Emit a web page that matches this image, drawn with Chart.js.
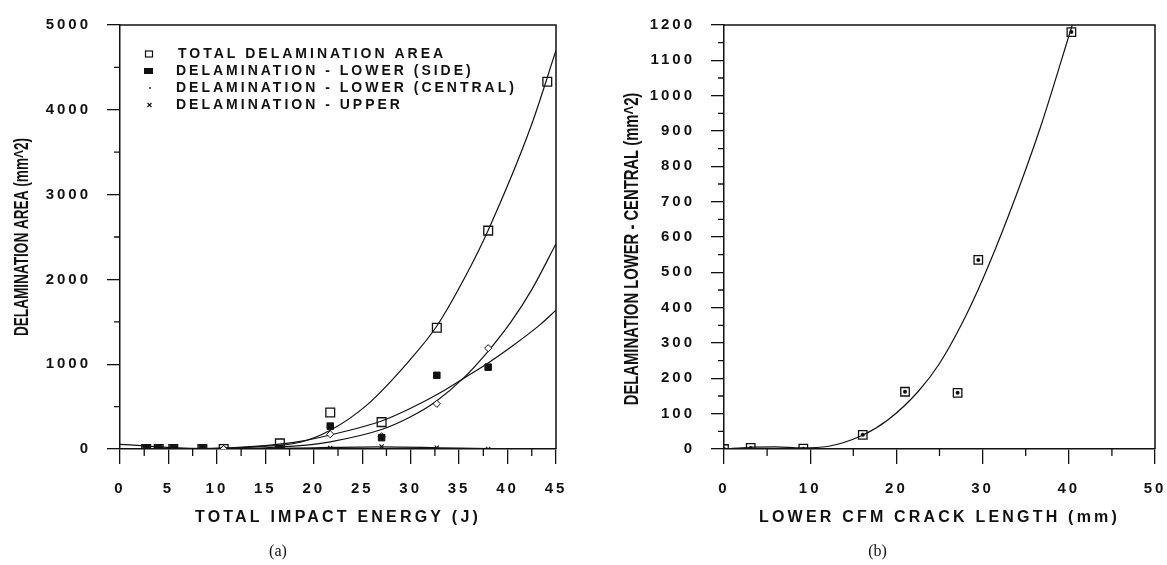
<!DOCTYPE html>
<html><head><meta charset="utf-8">
<script src="https://cdn.jsdelivr.net/npm/chart.js@4.4.1/dist/chart.umd.min.js"></script>
<style>
html,body{margin:0;padding:0;background:#fff;overflow:hidden;width:1167px;height:565px;}
#c1{position:absolute;left:0;top:0;}
#c2{position:absolute;left:600px;top:0;}
</style></head><body>
<canvas id="c1" width="620" height="565"></canvas>
<canvas id="c2" width="624" height="565"></canvas>
<script>
// ---------- data: chart (a) ----------
const impactEnergy   = [2.7, 4.0, 5.5, 8.5, 10.7, 16.5, 21.7, 27.0, 32.7, 38.0, 44.1];
const totalArea      = [0, 0, 0, 0, 0, 66, 430, 317, 1430, 2575, 4330];
const lowerSideArea  = [4, 4, 4, 4, null, 8, 270, 134, 869, 965, null];
const lowerCentral   = [null, null, null, null, 0, 4, 174, 150, 533, 1189, null];
const upperArea      = [0, 0, 0, 0, 0, 5, 12, 30, 15, 0, null];

const totalFitX   = [0, 5, 10, 14, 18.6, 21.7, 25.5, 30, 32.7, 35.9, 38, 42.4, 45];
const totalFitY   = [0, 2, 5, 25, 80, 220, 520, 1060, 1450, 2090, 2580, 3800, 4700];
const sideFitX    = [0, 10, 15, 18.6, 21.7, 27, 30, 33, 35.5, 38, 40.5, 43.4, 45];
const sideFitY    = [0, 10, 40, 90, 165, 330, 480, 660, 835, 1015, 1215, 1470, 1636];
const centralFitX = [0, 10, 15, 18.6, 21.7, 27, 30, 32.6, 35.5, 37.9, 40.3, 42.5, 45];
const centralFitY = [0, 0, 15, 40, 85, 230, 380, 560, 841, 1140, 1490, 1880, 2420];
const upperFitX   = [0, 3, 6, 10, 15, 20, 27, 33, 38, 45];
const upperFitY   = [55, 33, 15, 3, 5, 15, 25, 15, 5, 0];

const legendLabels = ['TOTAL DELAMINATION AREA', 'DELAMINATION - LOWER (SIDE)',
                      'DELAMINATION - LOWER (CENTRAL)', 'DELAMINATION - UPPER'];
const xTicksA = [0, 5, 10, 15, 20, 25, 30, 35, 40, 45];
const xMinorA = [2.5, 7.5, 12.5, 17.5, 22.5, 27.5, 32.5, 37.5, 42.5];
const yTicksA = [0, 1000, 2000, 3000, 4000, 5000];
const yMinorA = [500, 1500, 2500, 3500, 4500];

// ---------- data: chart (b) ----------
const crackLength    = [0, 3.1, 9.2, 16.1, 21.0, 27.1, 29.5, 40.3];
const centralLowArea = [0, 3, 1, 40, 162, 159, 535, 1180];
const crackFitX = [0, 3, 6, 9, 12, 16, 19, 22.5, 25, 27.5, 30, 33, 36.7, 40.4];
const crackFitY = [0, 5, 6, 3, 7, 38, 82, 162, 242, 350, 480, 660, 910, 1200];
const xTicksB = [0, 10, 20, 30, 40, 50];
const xMinorB = [5, 15, 25, 35, 45];
const yTicksB = [0, 100, 200, 300, 400, 500, 600, 700, 800, 900, 1000, 1100, 1200];
const yMinorB = [50, 150, 250, 350, 450, 550, 650, 750, 850, 950, 1050, 1150];

// ---------- helpers ----------
const INK = '#111';
const SANS = "'Liberation Sans', Arial, Helvetica, sans-serif";
function pts(xs, ys) { const o = []; xs.forEach((x, i) => { if (ys[i] !== null && ys[i] !== undefined) o.push({x: x, y: ys[i]}); }); return o; }

const yTitleFit = { c1: {k: 0.68, shift: 0}, c2: {k: 0.74, shift: 12} };

const stylePlugin = {
  id: 'stylePlugin',
  beforeDraw(chart) {
    Object.values(chart.scales).forEach(s => {
      if (s.__wrapped) return; s.__wrapped = true;
      const dl = s.drawLabels, dt = s.drawTitle;
      s.drawLabels = function (a) { const c = this.ctx; c.save(); c.letterSpacing = '3px'; dl.call(this, a); c.restore(); };
      s.drawTitle = function () {
        const c = this.ctx; c.save();
        if (this.isHorizontal()) { c.letterSpacing = '3.2px'; }
        else {
          const f = yTitleFit[this.chart.canvas.id] || {k: 1, shift: 0};
          const cy = (this.top + this.bottom) / 2;
          c.translate(0, cy + f.shift); c.scale(1, f.k); c.translate(0, -cy);
        }
        dt.call(this); c.restore();
      };
    });
  },
  afterDraw(chart, args, opts) {
    const c = chart.ctx, a = chart.chartArea, sx = chart.scales.x, sy = chart.scales.y;
    c.save();
    c.strokeStyle = INK; c.lineWidth = 1.5;
    c.beginPath();
    c.moveTo(a.left, a.top); c.lineTo(a.right, a.top); c.lineTo(a.right, a.bottom);
    c.stroke();
    c.lineWidth = 1.3;
    c.beginPath();
    (opts.xMinor || []).forEach(v => { const p = sx.getPixelForValue(v); c.moveTo(p, a.bottom); c.lineTo(p, a.bottom + 7); });
    (opts.yMinor || []).forEach(v => { const p = sy.getPixelForValue(v); c.moveTo(a.left, p); c.lineTo(a.left - 6, p); });
    c.stroke();
    c.restore();
  }
};

const legendPlugin = {
  id: 'legendInside',
  afterDraw(chart, args, opts) {
    if (!opts.show) return;
    const c = chart.ctx;
    c.save();
    c.fillStyle = INK; c.strokeStyle = INK;
    c.font = "bold 14px " + SANS;
    c.letterSpacing = '3px';
    c.textBaseline = 'middle'; c.textAlign = 'left';
    const rows = [54, 71, 88, 105];
    legendLabels.forEach((t, i) => c.fillText(t, i === 0 ? 178 : 176, rows[i]));
    c.letterSpacing = '0px';
    c.lineWidth = 1.2;
    c.strokeRect(145.5, rows[0] - 3, 7, 6);
    c.fillRect(144, rows[1] - 3, 9, 6);
    c.beginPath(); c.arc(150, rows[2], 0.9, 0, Math.PI * 2); c.fill();
    c.beginPath();
    c.moveTo(147.5, rows[3] - 2); c.lineTo(151.5, rows[3] + 2);
    c.moveTo(151.5, rows[3] - 2); c.lineTo(147.5, rows[3] + 2);
    c.stroke();
    c.restore();
  }
};

function axis(min, max, ticks, tickLen, pad, titleText, titleFont, titlePad, fitFn) {
  return {
    type: 'linear', min: min, max: max,
    afterBuildTicks: s => { s.ticks = ticks.map(v => ({value: v})); },
    afterFit: fitFn,
    ticks: { font: {family: SANS, size: 15, weight: 'bold'}, color: INK, padding: pad,
             autoSkip: false, maxRotation: 0, minRotation: 0, callback: v => String(v) },
    grid: { display: true, drawOnChartArea: false, drawTicks: true, tickLength: tickLen,
            color: INK, lineWidth: 1.3 },
    border: { display: true, color: INK, width: 1.5 },
    title: { display: true, text: titleText, font: titleFont, color: INK, padding: titlePad }
  };
}

function lineDs(xs, ys) {
  return { data: pts(xs, ys), showLine: true, pointRadius: 0, borderColor: INK, borderWidth: 1.2,
           cubicInterpolationMode: 'monotone', fill: false };
}

const xTitleFont = {family: SANS, size: 16, weight: 'bold'};
const yTitleFont = {family: SANS, size: 20, weight: 'bold'};
const capFont = {family: "'Liberation Serif', 'Times New Roman', serif", size: 16, weight: 'normal'};

// ---------- chart (a) ----------
new Chart(document.getElementById('c1'), {
  type: 'scatter',
  data: { datasets: [
    { label: legendLabels[0], data: pts(impactEnergy, totalArea), pointStyle: 'rect', pointRadius: 6.2,
      borderColor: INK, borderWidth: 1.3, backgroundColor: 'rgba(0,0,0,0)' },
    { label: legendLabels[1], data: pts(impactEnergy, lowerSideArea), pointStyle: 'rect', pointRadius: 4.6,
      borderColor: INK, borderWidth: 1, backgroundColor: INK },
    { label: legendLabels[2], data: pts(impactEnergy, lowerCentral), pointStyle: 'rectRot', pointRadius: 3.6,
      borderColor: INK, borderWidth: 1, backgroundColor: '#fff' },
    { label: legendLabels[3], data: pts(impactEnergy, upperArea), pointStyle: 'crossRot', pointRadius: 3,
      borderColor: INK, borderWidth: 1.1 },
    lineDs(totalFitX, totalFitY),
    lineDs(sideFitX, sideFitY),
    lineDs(centralFitX, centralFitY),
    lineDs(upperFitX, upperFitY)
  ]},
  options: {
    responsive: false, animation: false, devicePixelRatio: 1,
    layout: { padding: {top: 18, right: 64, bottom: 0, left: 0} },
    scales: {
      x: axis(0, 45, xTicksA, 15, 16, 'TOTAL IMPACT ENERGY (J)', xTitleFont, {top: 0, bottom: 15}, s => { s.height = 92.8; }),
      y: axis(0, 5000, yTicksA, 13, 16, 'DELAMINATION AREA (mm^2)', yTitleFont, {top: 10, bottom: 0}, s => { s.width = 120; })
    },
    plugins: {
      legend: { display: false }, tooltip: { enabled: false },
      title: { display: true, position: 'bottom', text: '(a)', font: capFont, color: INK, padding: {top: 0, bottom: 4} },
      stylePlugin: { xMinor: xMinorA, yMinor: yMinorA },
      legendInside: { show: true }
    }
  },
  plugins: [stylePlugin, legendPlugin]
});

// ---------- chart (b) ----------
new Chart(document.getElementById('c2'), {
  type: 'scatter',
  data: { datasets: [
    { label: 'centre dot', data: pts(crackLength, centralLowArea), pointStyle: 'circle', pointRadius: 2,
      borderColor: INK, borderWidth: 0, backgroundColor: INK },
    { label: 'DELAMINATION LOWER - CENTRAL', data: pts(crackLength, centralLowArea), pointStyle: 'rect', pointRadius: 6,
      borderColor: INK, borderWidth: 1.3, backgroundColor: 'rgba(0,0,0,0)' },
    lineDs(crackFitX, crackFitY)
  ]},
  options: {
    responsive: false, animation: false, devicePixelRatio: 1,
    layout: { padding: {top: 18, right: 69, bottom: 0, left: 0} },
    scales: {
      x: axis(0, 50, xTicksB, 15, 16, 'LOWER CFM CRACK LENGTH (mm)', xTitleFont, {top: 0, bottom: 15}, s => { s.height = 92.8; }),
      y: axis(0, 1200, yTicksB, 13, 16, 'DELAMINATION LOWER - CENTRAL (mm^2)', yTitleFont, {top: 20, bottom: 0}, s => { s.width = 124; })
    },
    plugins: {
      legend: { display: false }, tooltip: { enabled: false },
      title: { display: true, position: 'bottom', text: '(b)', font: capFont, color: INK, padding: {top: 0, bottom: 4} },
      stylePlugin: { xMinor: xMinorB, yMinor: yMinorB },
      legendInside: { show: false }
    }
  },
  plugins: [stylePlugin, legendPlugin]
});
</script>
</body></html>
